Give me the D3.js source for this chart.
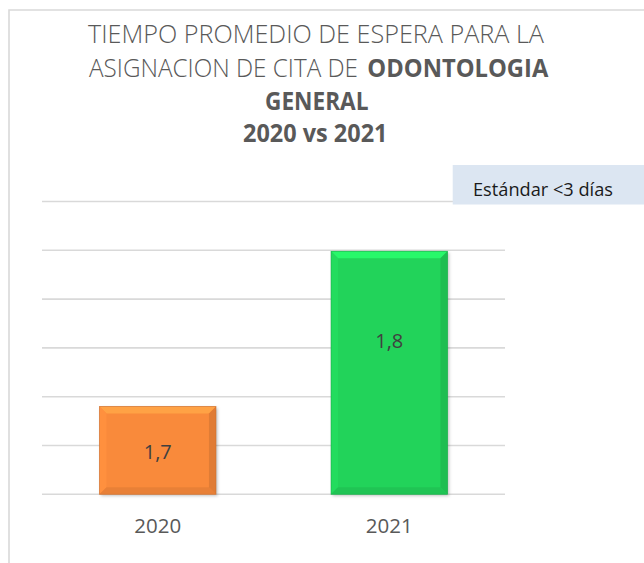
<!DOCTYPE html>
<html>
<head>
<meta charset="utf-8">
<script src="https://cdn.jsdelivr.net/npm/d3@7"></script>
<style>
  html, body { margin: 0; padding: 0; background: #ffffff; }
  svg { display: block; }
</style>
</head>
<body>
<svg id="chart" width="644" height="563"></svg>
<script>
// ---- data ----
const categories = ["2020", "2021"];
const values = [1.69, 1.849];
const barColors = ["#f98a3b", "#22d35a"];
const yTicks = [1.6, 1.65, 1.7, 1.75, 1.8, 1.85, 1.9];
const titleLine1 = "TIEMPO PROMEDIO DE ESPERA PARA LA";
const titleLine2a = "ASIGNACION DE CITA DE";
const titleLine2b = "ODONTOLOGIA";
const titleLine3 = "GENERAL";
const titleLine4 = "2020 vs 2021";
const legendText = "Estándar <3 días";

// ---- drawing ----
const svg = d3.select("#chart");
const font = "'Open Sans', 'DejaVu Sans', sans-serif";

// outer chart border (light gray, runs off right/bottom)
svg.append("path")
  .attr("d", "M9,563 L9,10 L644,10")
  .attr("fill", "none").attr("stroke", "#d9d9d9").attr("stroke-width", 1.6);

const x = d3.scaleBand().domain(categories).range([42, 505])
  .paddingInner(0.497).paddingOuter(0.2485);
const y = d3.scaleLinear().domain([1.6, 1.9]).range([494.3, 201.5]);

// gridlines
svg.append("g").selectAll("line").data(yTicks).join("line")
  .attr("x1", 42).attr("x2", 505)
  .attr("y1", d => y(d)).attr("y2", d => y(d))
  .attr("stroke", "#d9d9d9").attr("stroke-width", 1.6);

// legend-like annotation box
svg.append("rect").attr("x", 452.7).attr("y", 165).attr("width", 644 - 452.7).attr("height", 39.5)
  .attr("fill", "#dce6f2");
svg.append("text").attr("x", 473).attr("y", 196)
  .attr("font-family", font).attr("font-size", 18.5).attr("fill", "#1a1a1a")
  .attr("textLength", 140).attr("lengthAdjust", "spacingAndGlyphs")
  .text(legendText);

// shadow filter
const defs = svg.append("defs");
const f = defs.append("filter").attr("id", "shadow").attr("x", "-10%").attr("y", "-10%").attr("width", "130%").attr("height", "130%");
f.append("feDropShadow").attr("dx", 1.5).attr("dy", 1.5).attr("stdDeviation", 1.5)
  .attr("flood-color", "#000").attr("flood-opacity", 0.25);

// bars with bevel
const bars = svg.append("g");
categories.forEach((c, i) => {
  const x0 = x(c), x1 = x(c) + x.bandwidth();
  const y0 = y(values[i]), y1 = y(1.6);
  const col = d3.color(barColors[i]);
  const g = bars.append("g");
  g.append("rect").attr("x", x0).attr("y", y0).attr("width", x1 - x0).attr("height", y1 - y0)
    .attr("fill", col.formatHex()).attr("filter", "url(#shadow)");
  const b = 7;
  const poly = (pts, fill) => g.append("polygon").attr("points", pts.map(p => p.join(",")).join(" ")).attr("fill", fill);
  poly([[x0, y0], [x1, y0], [x1 - b, y0 + b], [x0 + b, y0 + b]], col.brighter(0.45).formatHex());
  poly([[x0, y0], [x0 + b, y0 + b], [x0 + b, y1 - b], [x0, y1]], col.brighter(0.12).formatHex());
  poly([[x1, y0], [x1, y1], [x1 - b, y1 - b], [x1 - b, y0 + b]], col.darker(0.3).formatHex());
  poly([[x0, y1], [x0 + b, y1 - b], [x1 - b, y1 - b], [x1, y1]], col.darker(0.2).formatHex());
  g.append("rect").attr("x", x0).attr("y", y0).attr("width", x1 - x0).attr("height", y1 - y0)
    .attr("fill", "none").attr("stroke", col.darker(0.6).formatHex()).attr("stroke-width", 0.8).attr("stroke-opacity", 0.7);
});

// data labels
const fmt = v => d3.format(".1f")(v).replace(".", ",");
const labelFrac = [0.6, 0.4];
svg.append("g").selectAll("text").data(categories).join("text")
  .attr("x", d => x(d) + x.bandwidth() / 2)
  .attr("y", (d, i) => y(values[i]) + (y(1.6) - y(values[i])) * labelFrac[i])
  .attr("text-anchor", "middle")
  .attr("font-family", font).attr("font-size", 20).attr("fill", "#404040")
  .text((d, i) => fmt(values[i]));

// x-axis labels
const xAxis = d3.axisBottom(x).tickSize(0).tickPadding(0);
const gx = svg.append("g").attr("transform", "translate(0,494.3)").call(xAxis);
gx.select(".domain").remove();
gx.selectAll("text")
  .attr("y", 38.4).attr("dy", 0)
  .attr("font-family", font).attr("font-size", 20.5).attr("fill", "#595959");

// title
const title = svg.append("g").attr("fill", "#595959").attr("font-family", font);
title.append("text").attr("x", 88).attr("y", 43.3).attr("font-size", 25.5).attr("font-weight", 300)
  .attr("textLength", 456).attr("lengthAdjust", "spacingAndGlyphs").text(titleLine1);
title.append("text").attr("x", 89).attr("y", 76.7).attr("font-size", 25.5).attr("font-weight", 300)
  .attr("textLength", 269).attr("lengthAdjust", "spacingAndGlyphs").text(titleLine2a);
title.append("text").attr("x", 367.3).attr("y", 76.7).attr("font-size", 25).attr("font-weight", 700)
  .attr("textLength", 181).attr("lengthAdjust", "spacingAndGlyphs").text(titleLine2b);
title.append("text").attr("x", 265).attr("y", 109.5).attr("font-size", 25).attr("font-weight", 700)
  .attr("textLength", 103.5).attr("lengthAdjust", "spacingAndGlyphs").text(titleLine3);
title.append("text").attr("x", 243).attr("y", 141.7).attr("font-size", 25).attr("font-weight", 700)
  .attr("textLength", 144.5).attr("lengthAdjust", "spacingAndGlyphs").text(titleLine4);
</script>
</body>
</html>
